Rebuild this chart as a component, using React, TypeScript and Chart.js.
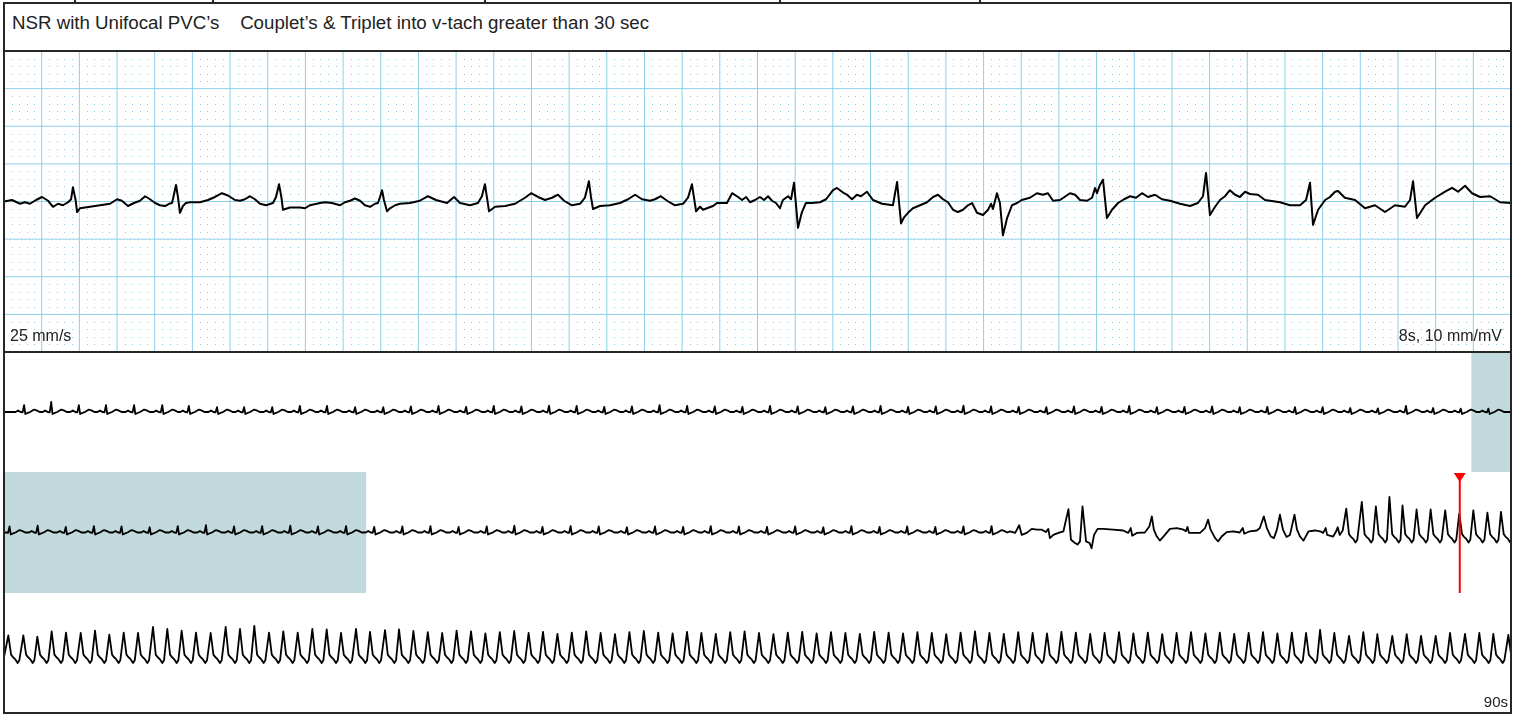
import { useEffect, useRef } from "react";
import { Chart, registerables } from "chart.js";

Chart.register(...registerables);

// ---------------- texts ----------------
const HEADER_TEXT = "NSR with Unifocal PVC’s    Couplet’s & Triplet into v-tach greater than 30 sec";
const SPEED_LABEL = "25 mm/s";
const GAIN_LABEL = "8s, 10 mm/mV";
const RECORD_LABEL = "90s";

// ---------------- main 8 s strip (seconds, mV) ----------------
const MAIN_T_RANGE = [0, 8];
const MAIN_MV_RANGE = [-2, 2];
const mainTimes = [
  0, 0.042, 0.085, 0.111, 0.138, 0.17, 0.202, 0.234, 0.26, 0.287, 0.313, 0.34, 0.356, 0.366,
  0.38, 0.388, 0.403, 0.457, 0.51, 0.563, 0.6, 0.626, 0.658, 0.69, 0.722, 0.749, 0.775, 0.802,
  0.828, 0.855, 0.876, 0.892, 0.902, 0.913, 0.924, 0.934, 0.95, 0.966, 0.987, 1.04, 1.083,
  1.12, 1.157, 1.189, 1.226, 1.253, 1.279, 1.306, 1.332, 1.359, 1.391, 1.428, 1.444, 1.46,
  1.473, 1.481, 1.518, 1.571, 1.598, 1.624, 1.678, 1.704, 1.741, 1.784, 1.81, 1.837, 1.863,
  1.89, 1.916, 1.943, 1.97, 1.985, 1.996, 2.007, 2.017, 2.033, 2.049, 2.076, 2.102,
  2.155, 2.208, 2.251, 2.293, 2.352, 2.389, 2.421, 2.474, 2.516, 2.537, 2.553, 2.564, 2.575,
  2.607, 2.66, 2.713, 2.766, 2.798, 2.835, 2.872, 2.909, 2.941, 2.973, 3.015, 3.058, 3.084,
  3.105, 3.116, 3.127, 3.164, 3.217, 3.27, 3.313, 3.35, 3.387, 3.429, 3.456, 3.487, 3.52,
  3.562, 3.605, 3.631, 3.652, 3.663, 3.674,
  3.695, 3.711, 3.732, 3.764, 3.785, 3.838, 3.865, 3.897, 3.918, 3.94, 3.96, 3.987, 4.013,
  4.035, 4.056, 4.077, 4.098, 4.119, 4.135, 4.162, 4.178, 4.194, 4.215, 4.236, 4.257, 4.289,
  4.332, 4.364, 4.401, 4.422, 4.438, 4.459, 4.475, 4.502, 4.528, 4.549, 4.581, 4.613, 4.661,
  4.719, 4.741, 4.762, 4.778, 4.799, 4.825, 4.863, 4.9, 4.932, 4.958, 4.985, 5.011, 5.038,
  5.064, 5.091, 5.117, 5.139, 5.165, 5.197, 5.224, 5.24, 5.25, 5.271, 5.287, 5.303, 5.325,
  5.351, 5.378, 5.403, 5.446, 5.483, 5.515, 5.542, 5.569, 5.606, 5.659, 5.686, 5.712, 5.749,
  5.776, 5.792, 5.802, 5.818,
  5.834, 5.855, 5.882, 5.914, 5.946, 5.978, 6.009, 6.041, 6.073, 6.11, 6.147, 6.19, 6.243,
  6.296, 6.338, 6.365, 6.381, 6.392, 6.402, 6.429, 6.455, 6.482, 6.508, 6.535, 6.561, 6.588,
  6.614, 6.657, 6.694, 6.774, 6.827, 6.88, 6.912, 6.933, 6.949, 6.976, 7.013, 7.039, 7.066,
  7.082, 7.118, 7.172, 7.225, 7.278, 7.331, 7.384, 7.437, 7.464, 7.48, 7.501, 7.544, 7.597,
  7.65, 7.687, 7.719, 7.756, 7.793, 7.836, 7.889, 7.942, 8.0,
];
const mainMv = [
  0.0, 0.02, -0.03, -0.01, -0.03, 0.02, 0.06, 0.01, -0.07, -0.03, -0.05, -0.01, 0.03, 0.19,
  0.02, -0.14, -0.09, -0.07, -0.05, -0.03, 0.03, 0.01, -0.06, -0.02, 0.01, 0.07, 0.03, -0.02,
  -0.05, -0.06, -0.03, -0.02, 0.09, 0.22, 0.05, -0.15, -0.06, -0.02, -0.01, -0.01, 0.02,
  0.06, 0.11, 0.08, 0.02, 0.01, 0.03, 0.07, 0.03, -0.03, -0.05, -0.02, 0.06, 0.23,
  0.05, -0.11, -0.08, -0.08, -0.09, -0.05, -0.02, -0.01, -0.02, -0.05, -0.01, 0.01, 0.04,
  0.01, -0.05, -0.07, -0.03, -0.02, 0.06, 0.15, 0.02, -0.13, -0.09, -0.05, -0.03,
  -0.02, 0.01, 0.07, 0.02, -0.02, 0.06, -0.02, -0.05, -0.02, 0.07, 0.23, 0.05, -0.13,
  -0.07, -0.06, -0.03, 0.05, 0.11, 0.06, 0.02, 0.05, 0.09, 0.01, -0.05, -0.03, 0.05,
  0.27, 0.06, -0.1, -0.06, -0.05, -0.02, 0.03, 0.09, 0.03, 0.01, 0.03, 0.07, 0.01,
  -0.05, -0.03, 0.05, 0.23, 0.05, -0.13,
  -0.07, -0.11, -0.09, -0.06, -0.02, -0.02, 0.11, 0.06, 0.02, 0.06, -0.01, 0.02, 0.06,
  0.02, 0.07, 0.01, -0.02, -0.09, 0.02, 0.07, 0.03, 0.25, -0.35, -0.14, -0.02, -0.02,
  -0.01, 0.03, 0.15, 0.18, 0.15, 0.11, 0.09, 0.03, 0.09, 0.07, 0.13, 0.02, -0.03,
  -0.05, 0.26, -0.29, -0.21, -0.15, -0.09, -0.05, -0.01, 0.06, 0.09, 0.03, -0.01, -0.11,
  -0.14, -0.11, -0.05, -0.02, -0.15, -0.18, -0.11, -0.03, -0.1, 0.11, -0.02, -0.45, -0.22,
  -0.05, -0.02, 0.02, 0.05, 0.11, 0.09, 0.11, 0.01, 0.02, 0.11, 0.09, 0.02, 0.01,
  0.05, 0.18, 0.11, 0.22,
  0.29, -0.22, -0.11, -0.02, 0.03, 0.07, 0.05, 0.11, 0.06, 0.09, 0.03, 0.01, -0.03,
  -0.06, -0.02, 0.07, 0.38, 0.09, -0.18, -0.07, 0.02, 0.07, 0.15, 0.09, 0.06, 0.13,
  0.1, 0.09, 0.02, -0.01, -0.05, -0.05, 0.02, 0.25, -0.31, -0.11, 0.02, 0.06, 0.13,
  0.14, 0.05, 0.02, -0.09, -0.05, -0.14, -0.05, -0.07, 0.02, 0.27, -0.22, -0.05, 0.05,
  0.13, 0.18, 0.13, 0.21, 0.11, 0.06, 0.07, -0.01, -0.02,
];

// ---------------- 90 s overview (3 rows x 30 s) ----------------
const ROW_SECONDS = 30;
const OVERVIEW_RANGE = [-1.5, 1.5];
const MAIN_WINDOW_START = 29.21; // s of the 90 s record shown in the 8 s strip
const MAIN_WINDOW_LENGTH = 8;
const MARKER_TIME = 58.98;

const row1BeatTimes = [
  0.4, 0.94, 1.49, 2.03, 2.59, 3.15, 3.68, 4.24, 4.78, 5.34, 5.89, 6.43, 6.99, 7.55,
  8.1, 8.65, 9.2, 9.75, 10.3, 10.85, 11.4, 11.95, 12.5, 13.05, 13.6, 14.15, 14.7, 15.25,
  15.8, 16.35, 16.9, 17.45, 18.0, 18.55, 19.1, 19.65, 20.2, 20.75, 21.3, 21.85, 22.4,
  22.95, 23.5, 24.05, 24.6, 25.15, 25.7, 26.25, 26.8, 27.35, 27.91, 28.45, 29.0, 29.55,
];
const row1BeatAmp = [
  0.17, 0.25, 0.17, 0.17, 0.17, 0.17, 0.15, 0.12, 0.12, 0.12, 0.15, 0.15, 0.12, 0.12,
  0.14, 0.15, 0.13, 0.15, 0.14, 0.16, 0.15, 0.13, 0.14, 0.17, 0.15, 0.14, 0.13, 0.15,
  0.14, 0.12, 0.14, 0.15, 0.13, 0.14, 0.16, 0.14, 0.13, 0.12, 0.14, 0.13, 0.15, 0.12,
  0.13, 0.14, 0.12, 0.13, 0.12, 0.12, 0.1, 0.09, 0.15, 0.1, 0.085, 0.085,
];
const row2BeatTimes = [
  0.11, 0.67, 1.23, 1.79, 2.34, 2.9, 3.46, 4.02, 4.58, 5.14, 5.7, 6.25, 6.81, 7.37,
  7.93, 8.49, 9.05, 9.61, 10.16, 10.72, 11.28, 11.84, 12.4, 12.96, 13.52, 14.07, 14.63,
  15.19, 15.75, 16.31, 16.87, 17.43, 17.98, 18.54, 19.1, 19.66,
];
const row2BeatAmp = [
  0.15, 0.17, 0.14, 0.16, 0.15, 0.13, 0.16, 0.18, 0.15, 0.16, 0.17, 0.15, 0.16, 0.14,
  0.15, 0.16, 0.14, 0.15, 0.17, 0.14, 0.16, 0.15, 0.13, 0.15, 0.14, 0.16, 0.15, 0.14,
  0.15, 0.13, 0.16, 0.14, 0.15, 0.14, 0.15, 0.16,
];
// couplet, isolated PVCs, triplet (s, value)
const row2EventTimes = [
  20.03, 20.13, 20.21, 20.26, 20.36, 20.46, 20.56, 20.66, 20.74, 20.79, 20.82, 20.89,
  20.99, 21.09, 21.19, 21.24, 21.32, 21.37, 21.42, 21.47, 21.54, 21.61, 21.65, 21.7,
  21.77, 21.88, 22.08, 22.28, 22.38, 22.43, 22.46, 22.55, 22.71, 22.8, 22.85, 22.89,
  22.95, 23.01, 23.11, 23.21, 23.35, 23.48, 23.53, 23.56, 23.59, 23.81, 23.91, 23.97,
  24.02, 24.11, 24.17, 24.24, 24.34, 24.47, 24.6, 24.66, 24.69, 24.8, 24.94, 25.0,
  25.08, 25.14, 25.22, 25.28, 25.34, 25.4, 25.46, 25.53, 25.6, 25.69, 25.74, 25.8,
  25.87, 25.97, 26.1, 26.2, 26.26, 26.31, 26.34, 26.46, 26.52, 26.55, 26.59, 26.65,
];
const row2EventValues = [
  0.03, -0.01, 0.18, -0.06, -0.01, 0.09, 0.07, 0.07, 0.01, 0.09, -0.14, -0.06,
  -0.01, 0.03, 0.58, -0.18, -0.26, -0.3, -0.22, 0.65, -0.22, -0.26, -0.39, -0.06,
  0.09, 0.09, 0.07, 0.05, -0.01, 0.11, -0.08, -0.01, 0.0, 0.15, 0.4, 0.07,
  -0.1, -0.2, -0.06, 0.09, 0.11, 0.07, 0.03, 0.14, -0.01, -0.01, 0.11, 0.32,
  0.07, -0.14, -0.22, -0.1, 0.01, 0.03, 0.0, 0.11, -0.03, 0.03, 0.05, 0.11,
  0.4, 0.11, -0.1, -0.14, 0.07, 0.44, 0.07, -0.11, -0.06, 0.44, 0.07, -0.1,
  -0.2, 0.03, 0.05, 0.03, -0.01, 0.11, -0.06, -0.1, 0.03, 0.13, -0.06, 0.05,
];
const row2VtTimes = [26.72, 27.03, 27.31, 27.58, 27.84, 28.12, 28.4, 28.69, 28.97, 29.25, 29.53, 29.8];
const row2VtAmp = [0.59, 0.76, 0.65, 0.88, 0.67, 0.57, 0.57, 0.55, 0.47, 0.55, 0.49, 0.51];
const row3VtTimes = [
  0.086, 0.385, 0.663, 0.949, 1.234, 1.527, 1.812, 2.096, 2.383, 2.668, 2.966, 3.251,
  3.537, 3.822, 4.114, 4.413, 4.698, 4.983, 5.276, 5.56, 5.847, 6.138, 6.424, 6.709,
  7.008, 7.286, 7.585, 7.864,
  8.15, 8.437, 8.723, 9.01, 9.297, 9.583, 9.87, 10.157, 10.443, 10.73, 11.017, 11.303,
  11.59, 11.877, 12.163, 12.45, 12.737, 13.023, 13.31, 13.597, 13.883, 14.17, 14.457,
  14.743, 15.03, 15.317, 15.603, 15.89, 16.177, 16.463, 16.75, 17.037, 17.323, 17.61,
  17.897, 18.183, 18.47, 18.757, 19.043, 19.33, 19.617, 19.903, 20.19, 20.477, 20.763,
  21.05, 21.337, 21.623, 21.91, 22.197, 22.483, 22.77, 23.057, 23.343, 23.63, 23.917,
  24.203, 24.49, 24.777, 25.063, 25.35, 25.637,
  25.92, 26.199, 26.483, 26.776, 27.06, 27.339, 27.637, 27.924, 28.209, 28.501, 28.786,
  29.085, 29.369, 29.648, 29.947,
];
const row3VtAmp = [
  0.44, 0.44, 0.41, 0.54, 0.51, 0.5, 0.56, 0.46, 0.51, 0.5, 0.65, 0.6, 0.56, 0.51,
  0.5, 0.65, 0.6, 0.68, 0.51, 0.54, 0.51, 0.6, 0.59, 0.5, 0.6, 0.53, 0.57, 0.59,
  0.55, 0.52, 0.5, 0.56, 0.54, 0.49, 0.52, 0.55, 0.5, 0.53, 0.48, 0.51, 0.54, 0.5,
  0.47, 0.52, 0.55, 0.51, 0.49, 0.53, 0.5, 0.48, 0.52, 0.54, 0.5, 0.47, 0.51, 0.53,
  0.49, 0.52, 0.5, 0.48, 0.53, 0.51, 0.49, 0.52, 0.5, 0.47, 0.51, 0.54, 0.5, 0.48,
  0.52, 0.5, 0.49, 0.53, 0.51, 0.48, 0.5, 0.52, 0.49, 0.51, 0.47, 0.5, 0.52, 0.49,
  0.51, 0.48, 0.5, 0.52, 0.49, 0.51,
  0.5, 0.58, 0.5, 0.43, 0.52, 0.47, 0.43, 0.47, 0.43, 0.43, 0.5, 0.48, 0.5, 0.48, 0.45,
];

// beat shapes: [offset from R (s), value]
const overviewSinusShape: [number, number][] = [
  [-0.17, 0.0], [-0.12, 0.04], [-0.07, 0.0], [-0.03, -0.01], [0, 0],
  [0.025, -0.05], [0.06, -0.03], [0.12, 0.0], [0.2, 0.06], [0.25, 0.04], [0.31, 0.0],
];
const vtShape: [number, number][] = [
  [0, 0], [0.055, -0.04], [0.09, -0.1], [0.14, -0.16], [0.185, -0.25], [0.22, -0.18],
];

// ---------------- styles ----------------
const GRID_LINE = "#8dd0ea";
const GRID_DOT = "#8ccbe6";
const HILITE = "#c2dade";
const FRAME = "#262626";
const TRACE = "#000000";
const FONT = '"Liberation Sans", Arial, Helvetica, sans-serif';

type P = { x: number; y: number };

function placeBeats(times: number[], shape: [number, number][], overrides: number[][], idx: number[]): P[] {
  const pts: P[] = [];
  times.forEach((t0, k) => {
    shape.forEach(([dt, v], i) => {
      const j = idx.indexOf(i);
      const val = j >= 0 ? overrides[j][k] ?? v : v;
      pts.push({ x: t0 + dt, y: val });
    });
  });
  return pts;
}

const byX = (a: P, b: P) => a.x - b.x;

const mainPoints: P[] = mainTimes.map((t, i) => ({ x: t, y: mainMv[i] ?? 0 }));

const row1Points: P[] = [
  { x: 0, y: 0 },
  ...placeBeats(row1BeatTimes, overviewSinusShape, [row1BeatAmp], [4]),
  { x: 30, y: 0 },
].sort(byX);

const row2Points: P[] = [
  { x: 0, y: 0 },
  ...placeBeats(row2BeatTimes, overviewSinusShape, [row2BeatAmp], [4]),
  ...row2EventTimes.map((t, i) => ({ x: t, y: row2EventValues[i] })),
  ...placeBeats(row2VtTimes, vtShape, [row2VtAmp], [0]),
].sort(byX);

const row3Points: P[] = [
  { x: 0, y: -0.1 },
  ...placeBeats(row3VtTimes, vtShape, [row3VtAmp], [0]),
].sort(byX);

// ---------------- plugins ----------------
const ecgGridPlugin = {
  id: "ecgGrid",
  beforeDatasetsDraw(chart: any) {
    const { ctx, scales } = chart;
    const xs = scales.x;
    const ys = scales.y;
    ctx.save();
    ctx.fillStyle = GRID_DOT;
    for (let i = 1; i < 200; i++) {
      if (i % 5 === 0) continue;
      const px = Math.round(xs.getPixelForValue(i * 0.04));
      for (let j = 1; j < 40; j++) {
        if (j % 5 === 0) continue;
        const py = Math.round(ys.getPixelForValue(MAIN_MV_RANGE[0] + j * 0.1));
        ctx.fillRect(px, py, 1, 1);
      }
    }
    ctx.strokeStyle = GRID_LINE;
    ctx.lineWidth = 1;
    for (let i = 0; i <= 40; i++) {
      const px = xs.getPixelForValue(i * 0.2);
      ctx.beginPath();
      ctx.moveTo(px, ys.top);
      ctx.lineTo(px, ys.bottom);
      ctx.stroke();
    }
    for (let j = 0; j <= 8; j++) {
      const py = ys.getPixelForValue(MAIN_MV_RANGE[0] + j * 0.5);
      ctx.beginPath();
      ctx.moveTo(xs.left, py);
      ctx.lineTo(xs.right, py);
      ctx.stroke();
    }
    ctx.restore();
  },
};

function highlightPlugin(ranges: number[][], marker: number | null) {
  return {
    id: "hilite",
    beforeDatasetsDraw(chart: any) {
      const { ctx, scales } = chart;
      ctx.save();
      ctx.fillStyle = HILITE;
      ranges.forEach(([a, b]) => {
        const x0 = scales.x.getPixelForValue(a);
        const x1 = scales.x.getPixelForValue(b);
        ctx.fillRect(x0, scales.y.top, x1 - x0, scales.y.bottom - scales.y.top);
      });
      ctx.restore();
    },
    afterDatasetsDraw(chart: any) {
      if (marker === null) return;
      const { ctx, scales } = chart;
      const px = scales.x.getPixelForValue(marker);
      ctx.save();
      ctx.strokeStyle = "#ff0000";
      ctx.fillStyle = "#ff0000";
      ctx.lineWidth = 2;
      ctx.beginPath();
      ctx.moveTo(px, scales.y.top + 2);
      ctx.lineTo(px, scales.y.bottom);
      ctx.stroke();
      ctx.beginPath();
      ctx.moveTo(px - 6, scales.y.top + 1);
      ctx.lineTo(px + 6, scales.y.top + 1);
      ctx.lineTo(px, scales.y.top + 10);
      ctx.closePath();
      ctx.fill();
      ctx.restore();
    },
  };
}

type StripProps = {
  left: number;
  top: number;
  width: number;
  height: number;
  points: P[];
  xRange: number[];
  yRange: number[];
  lineWidth: number;
  plugins: any[];
};

function Strip({ left, top, width, height, points, xRange, yRange, lineWidth, plugins }: StripProps) {
  const ref = useRef<HTMLCanvasElement>(null);
  useEffect(() => {
    if (!ref.current) return;
    const chart = new Chart(ref.current, {
      type: "line",
      data: {
        datasets: [
          {
            data: points,
            borderColor: TRACE,
            borderWidth: lineWidth,
            pointRadius: 0,
            tension: 0,
            fill: false,
            borderJoinStyle: "round",
            borderCapStyle: "round",
          } as any,
        ],
      },
      options: {
        animation: false,
        responsive: false,
        devicePixelRatio: 1,
        events: [],
        layout: { padding: 0 },
        plugins: { legend: { display: false }, tooltip: { enabled: false } },
        scales: {
          x: { type: "linear", display: false, min: xRange[0], max: xRange[1] },
          y: { type: "linear", display: false, min: yRange[0], max: yRange[1] },
        },
      },
      plugins,
    });
    return () => chart.destroy();
  }, []);
  return (
    <canvas
      ref={ref}
      width={width}
      height={height}
      style={{ position: "absolute", left, top, width, height }}
    />
  );
}

function rowRanges(row: number): number[][] {
  const r0 = row * ROW_SECONDS;
  const r1 = r0 + ROW_SECONDS;
  const a = Math.max(MAIN_WINDOW_START, r0);
  const b = Math.min(MAIN_WINDOW_START + MAIN_WINDOW_LENGTH, r1);
  return b > a ? [[a - r0, b - r0]] : [];
}

function rowMarker(row: number): number | null {
  const r0 = row * ROW_SECONDS;
  return MARKER_TIME >= r0 && MARKER_TIME < r0 + ROW_SECONDS ? MARKER_TIME - r0 : null;
}

const dividerXs = [75, 213, 485, 780, 980];

export default function App() {
  const rows = [row1Points, row2Points, row3Points];
  const rowTops = [352, 472, 593];
  const rowHeights = [120, 121, 120];
  return (
    <div
      style={{
        position: "fixed",
        left: 0,
        top: 0,
        width: 1519,
        height: 719,
        background: "#ffffff",
        overflow: "hidden",
        fontFamily: FONT,
        color: "#222",
      }}
    >
      {dividerXs.map((x) => (
        <div key={x} style={{ position: "absolute", left: x - 1, top: 0, width: 2, height: 3, background: FRAME }} />
      ))}
      <div
        style={{
          position: "absolute",
          left: 3,
          top: 2,
          width: 1509,
          height: 50,
          border: `2px solid ${FRAME}`,
          boxSizing: "border-box",
        }}
      />
      <div
        style={{
          position: "absolute",
          left: 12,
          top: 14,
          fontSize: 18.7,
          lineHeight: "18px",
          whiteSpace: "pre",
        }}
      >
        {HEADER_TEXT}
      </div>

      <Strip
        left={4}
        top={51}
        width={1507}
        height={301}
        points={mainPoints}
        xRange={MAIN_T_RANGE}
        yRange={MAIN_MV_RANGE}
        lineWidth={2}
        plugins={[ecgGridPlugin]}
      />

      {rows.map((pts, i) => (
        <Strip
          key={i}
          left={4}
          top={rowTops[i]}
          width={1507}
          height={rowHeights[i]}
          points={pts}
          xRange={[0, ROW_SECONDS]}
          yRange={OVERVIEW_RANGE}
          lineWidth={1.8}
          plugins={[highlightPlugin(rowRanges(i), rowMarker(i))]}
        />
      ))}

      <div
        style={{
          position: "absolute",
          left: 3,
          top: 50,
          width: 1509,
          height: 303,
          border: `2px solid ${FRAME}`,
          boxSizing: "border-box",
        }}
      />
      <div
        style={{
          position: "absolute",
          left: 3,
          top: 352,
          width: 1509,
          height: 362,
          borderLeft: `2px solid ${FRAME}`,
          borderRight: `2px solid ${FRAME}`,
          borderBottom: `2px solid ${FRAME}`,
          boxSizing: "border-box",
        }}
      />

      <div style={{ position: "absolute", left: 10, top: 328, fontSize: 16, lineHeight: "16px", whiteSpace: "pre" }}>
        {SPEED_LABEL}
      </div>
      <div
        style={{
          position: "absolute",
          right: 1519 - 1502,
          top: 328,
          fontSize: 16,
          lineHeight: "16px",
          whiteSpace: "pre",
        }}
      >
        {GAIN_LABEL}
      </div>
      <div
        style={{
          position: "absolute",
          right: 1519 - 1508,
          top: 694,
          fontSize: 15,
          lineHeight: "15px",
          whiteSpace: "pre",
        }}
      >
        {RECORD_LABEL}
      </div>
    </div>
  );
}
